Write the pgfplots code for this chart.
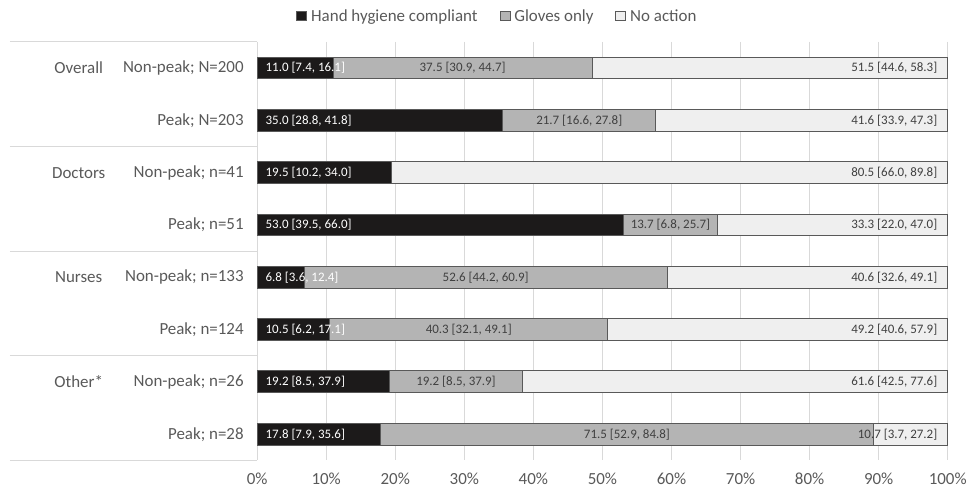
\documentclass[border=0pt]{standalone}
\usepackage{pgfplots}
\pgfplotsset{compat=1.18}
\usepackage{pgfplotstable}
\usepackage{fontspec}
\setmainfont{Carlito}

\definecolor{hhc}{HTML}{1C1A1A}
\definecolor{glo}{HTML}{B4B4B4}
\definecolor{noa}{HTML}{EFEFEF}
\definecolor{edge}{HTML}{595959}
\definecolor{txt}{HTML}{595959}
\definecolor{lbl}{HTML}{404040}
\definecolor{gridc}{HTML}{D9D9D9}

% plotted shares (row 1 normalised to 100 as in the 100% stacked chart) and printed labels
\pgfplotstableread[col sep=semicolon]{
row;hh;gl;na;hhl;gll;nal
0;11.0;37.5;51.5;11.0 [7.4, 16.1];37.5 [30.9, 44.7];51.5 [44.6, 58.3]
1;35.6;22.1;42.3;35.0 [28.8, 41.8];21.7 [16.6, 27.8];41.6 [33.9, 47.3]
2;19.5;0;80.5;19.5 [10.2, 34.0];{};80.5 [66.0, 89.8]
3;53.0;13.7;33.3;53.0 [39.5, 66.0];13.7 [6.8, 25.7];33.3 [22.0, 47.0]
4;6.8;52.6;40.6;6.8 [3.6, 12.4];52.6 [44.2, 60.9];40.6 [32.6, 49.1]
5;10.5;40.3;49.2;10.5 [6.2, 17.1];40.3 [32.1, 49.1];49.2 [40.6, 57.9]
6;19.2;19.2;61.6;19.2 [8.5, 37.9];19.2 [8.5, 37.9];61.6 [42.5, 77.6]
7;17.8;71.5;10.7;17.8 [7.9, 35.6];71.5 [52.9, 84.8];10.7 [3.7, 27.2]
}\data

\tikzset{bigfont/.style={font=\fontsize{17}{20}\selectfont}}
\pgfplotsset{
  base/.style={width=693pt, height=420pt, scale only axis,
    xmin=0, xmax=100, ymin=-0.5, ymax=7.5, y dir=reverse, clip=false},
}

\begin{document}
\begin{tikzpicture}
\begin{axis}[base,
  xbar stacked, bar width=22pt,
  axis line style={draw=none},
  major tick length=0,
  xtick={0,10,...,100},
  xticklabel={\pgfmathprintnumber{\tick}\%},
  xticklabel style={yshift=-9pt},
  ytick={0,...,7},
  yticklabels={Non-peak; N=200, Peak; N=203, Non-peak; n=41, Peak; n=51,
               Non-peak; n=133, Peak; n=124, Non-peak; n=26, Peak; n=28},
  yticklabel style={xshift=-10pt},
  ticklabel style={bigfont, text=txt},
  /pgf/number format/assume math mode=true,
  xmajorgrids, grid style={gridc, line width=0.8pt},
  legend columns=3,
  legend style={draw=none, fill=none, at={(rel axis cs:0.348,1.062)}, anchor=center,
    bigfont, text=txt,
    /tikz/every odd column/.append style={column sep=2pt},
    /tikz/every even column/.append style={column sep=20pt}},
  legend image code/.code={\draw[#1, line width=0.8pt] (0pt,-5pt) rectangle (10pt,5pt);},
]
\addplot[fill=hhc, draw=edge, line width=1pt] table[x=hh, y=row]{\data};
\addlegendentry{Hand hygiene compliant}
\addplot[fill=glo, draw=edge, line width=1pt] table[x=gl, y=row]{\data};
\addlegendentry{Gloves only}
\addplot[fill=noa, draw=edge, line width=1pt] table[x=na, y=row]{\data};
\addlegendentry{No action}

\draw[gridc, line width=0.8pt] (axis cs:-35.79,-0.5) -- (axis cs:0,-0.5);
\draw[gridc, line width=0.8pt] (axis cs:-35.79,1.5) -- (axis cs:0,1.5);
\draw[gridc, line width=0.8pt] (axis cs:-35.79,3.5) -- (axis cs:0,3.5);
\draw[gridc, line width=0.8pt] (axis cs:-35.79,5.5) -- (axis cs:0,5.5);
\draw[gridc, line width=0.8pt] (axis cs:-35.79,7.5) -- (axis cs:0,7.5);
\node[bigfont, text=txt] at (axis cs:-25.83,0) {Overall};
\node[bigfont, text=txt] at (axis cs:-25.83,2) {Doctors};
\node[bigfont, text=txt] at (axis cs:-25.83,4) {Nurses};
\node[bigfont, text=txt] at (axis cs:-25.83,6) {Other*};

\path (axis cs:-37.23,-1.3) rectangle (axis cs:102.74,8.167);
\end{axis}

\begin{axis}[base, hide axis,
  nodes near coords, point meta=explicit symbolic,
  every node near coord/.append style={font=\fontsize{13}{15}\selectfont}]
\addplot[draw=none, mark=none,
  every node near coord/.append style={anchor=west, text=white, xshift=5pt}]
  table[x expr=0, y=row, meta=hhl]{\data};
\addplot[draw=none, mark=none,
  every node near coord/.append style={anchor=center, text=lbl}]
  table[x expr=\thisrow{hh}+\thisrow{gl}/2, y=row, meta=gll]{\data};
\addplot[draw=none, mark=none,
  every node near coord/.append style={anchor=east, text=lbl, xshift=-7pt}]
  table[x expr=100, y=row, meta=nal]{\data};
\end{axis}
\end{tikzpicture}
\end{document}
